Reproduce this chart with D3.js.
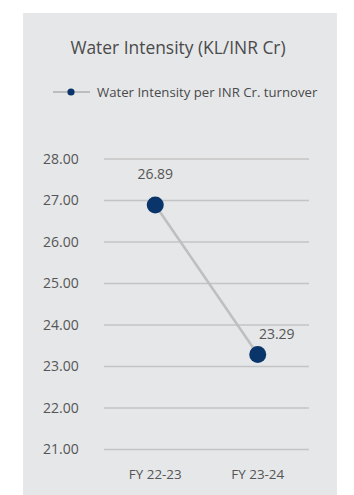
<!DOCTYPE html>
<html><head><meta charset="utf-8">
<script src="https://cdn.jsdelivr.net/npm/d3@7"></script>
<style>body{margin:0;background:#fff;}svg{display:block;font-family:"Open Sans", sans-serif;}</style>
</head><body>
<svg id="c" width="354" height="495"></svg>
<script>
const categories = ["FY 22-23", "FY 23-24"];
const values = [26.89, 23.29];
const yTicks = [21, 22, 23, 24, 25, 26, 27, 28];
const seriesName = "Water Intensity per INR Cr. turnover";
const title = "Water Intensity (KL/INR Cr)";

const svg = d3.select("#c");
svg.append("rect").attr("x", 23).attr("y", 13).attr("width", 314).attr("height", 482).attr("fill", "#e6e7e9");

const x = d3.scaleBand().domain(categories).range([104, 309]);
const y = d3.scaleLinear().domain([21, 28]).range([449.5, 159]);

svg.append("text").attr("x", 178).attr("y", 54).attr("text-anchor", "middle")
  .attr("font-size", 17.4).attr("fill", "#4a4a4a").text(title);

// legend
const lg = svg.append("g");
lg.append("line").attr("x1", 53).attr("x2", 90).attr("y1", 92).attr("y2", 92).attr("stroke", "#bdbdbd").attr("stroke-width", 2);
lg.append("circle").attr("cx", 71).attr("cy", 92).attr("r", 3.6).attr("fill", "#0a356b");
lg.append("text").attr("x", 97).attr("y", 96.5).attr("font-size", 13.2).attr("fill", "#4a4a4a").text(seriesName);

// grid + y labels
const yAxis = d3.axisLeft(y).tickValues(yTicks).tickSize(0).tickFormat(d3.format(".2f"));
const ga = svg.append("g").attr("transform", "translate(43,0)").call(yAxis);
ga.select(".domain").remove();
ga.selectAll("text").attr("text-anchor", "start").attr("x", 0).attr("dy", "0.32em")
  .attr("font-size", 14).attr("fill", "#555").attr("font-family", "'Open Sans', sans-serif");

svg.append("g").selectAll("line").data(yTicks).join("line")
  .attr("x1", 104).attr("x2", 309).attr("y1", d => y(d)).attr("y2", d => y(d))
  .attr("stroke", "#c4c4c4").attr("stroke-width", 1.5);

// x labels
const xAxis = d3.axisBottom(x).tickSize(0);
const gx = svg.append("g").attr("transform", "translate(0,466)").call(xAxis);
gx.select(".domain").remove();
gx.selectAll("text").attr("font-size", 13.4).attr("fill", "#555").attr("font-family", "'Open Sans', sans-serif").attr("dy", "0.71em");

const data = categories.map((c, i) => ({c, v: values[i]}));
const cx = d => x(d.c) + x.bandwidth() / 2;

svg.append("path").datum(data)
  .attr("d", d3.line().x(cx).y(d => y(d.v)))
  .attr("fill", "none").attr("stroke", "#bfbfbf").attr("stroke-width", 2.5);

svg.append("g").selectAll("circle").data(data).join("circle")
  .attr("cx", cx).attr("cy", d => y(d.v)).attr("r", 8.5).attr("fill", "#0a356b");

const labelOff = [{dx: 0, dy: -26}, {dx: 19, dy: -15}];
svg.append("g").selectAll("text").data(data).join("text")
  .attr("x", (d, i) => cx(d) + labelOff[i].dx).attr("y", (d, i) => y(d.v) + labelOff[i].dy)
  .attr("text-anchor", "middle").attr("font-size", 14).attr("fill", "#555")
  .text(d => d3.format(".2f")(d.v));
</script>
</body></html>
